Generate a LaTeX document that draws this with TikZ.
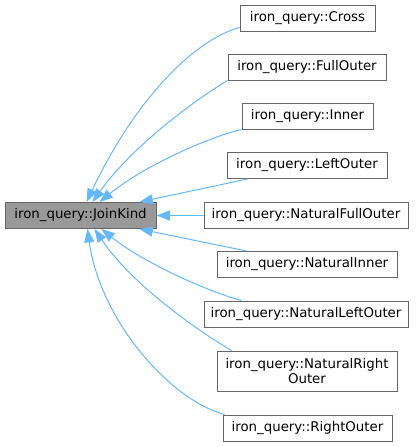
\documentclass[tikz,border=0pt]{standalone}
\usepackage{fontspec}
\setmainfont{DejaVu Sans}
\usetikzlibrary{arrows.meta,calc}
\definecolor{edgeblue}{HTML}{63B8FF}
\definecolor{boxborder}{HTML}{666666}
\definecolor{basefill}{HTML}{999999}
\begin{document}
\begin{tikzpicture}[x=0.75pt,y=-0.75pt,
  cls/.style={draw=boxborder,line width=0.75pt,fill=white,inner sep=0pt,
    minimum height=19.5pt,align=center,font=\fontsize{10}{11.5}\selectfont},
  basecls/.style={cls,fill=basefill},
  inh/.style={draw=edgeblue,line width=0.75pt,-{Triangle[length=10pt,width=7.5pt]}}]
\useasboundingbox (0,0) rectangle (416,447);
% base class
\node[basecls,minimum width=113.25pt] (jk) at (80.5,215.5) {iron\_query::JoinKind};
% derived classes
\node[cls,minimum width=101.25pt] (cross) at (307.5,18) {iron\_query::Cross};
\node[cls,minimum width=118.5pt] (fullouter) at (307,67) {iron\_query::FullOuter};
\node[cls,minimum width=98.25pt] (inner) at (307.5,116) {iron\_query::Inner};
\node[cls,minimum width=120pt] (leftouter) at (307,165.5) {iron\_query::LeftOuter};
\node[cls,minimum width=153pt] (nfo) at (306,215.5) {iron\_query::NaturalFullOuter};
\node[cls,minimum width=135pt] (ni) at (307,264.5) {iron\_query::NaturalInner};
\node[cls,minimum width=153pt] (nlo) at (306,314) {iron\_query::NaturalLeftOuter};
\node[cls,minimum width=135pt,minimum height=30pt] (nro) at (307,371) {iron\_query::NaturalRight\\Outer};
\node[cls,minimum width=126.75pt] (ro) at (307.5,428) {iron\_query::RightOuter};
% inheritance edges
\draw[inh] ($(cross.south west)+(0,-4)$) .. controls (200,38) and (140,90) .. ($(jk.north west)+(82,0)$);
\draw[inh] (fullouter.south west) .. controls (198,98) and (133,145) .. ($(jk.north west)+(88,0)$);
\draw[inh] (inner.south west) .. controls (212,136) and (145,165) .. ($(jk.north west)+(95,0)$);
\draw[inh] ($(leftouter.south west)+(21,0)$) -- ($(jk.north west)+(135,0)$);
\draw[inh] (nfo.west) -- (jk.east);
\draw[inh] ($(ni.north west)+(30,0)$) -- ($(jk.south west)+(135,0)$);
\draw[inh] ($(nlo.north west)+(38,0)$) .. controls (212,293) and (145,264) .. ($(jk.south west)+(97,0)$);
\draw[inh] ($(nro.north west)+(15,0)$) .. controls (200,332) and (133,286) .. ($(jk.south west)+(90,0)$);
\draw[inh] ($(ro.north west)+(2,0)$) .. controls (170,400) and (100,320) .. ($(jk.south west)+(83,0)$);
\end{tikzpicture}
\end{document}
